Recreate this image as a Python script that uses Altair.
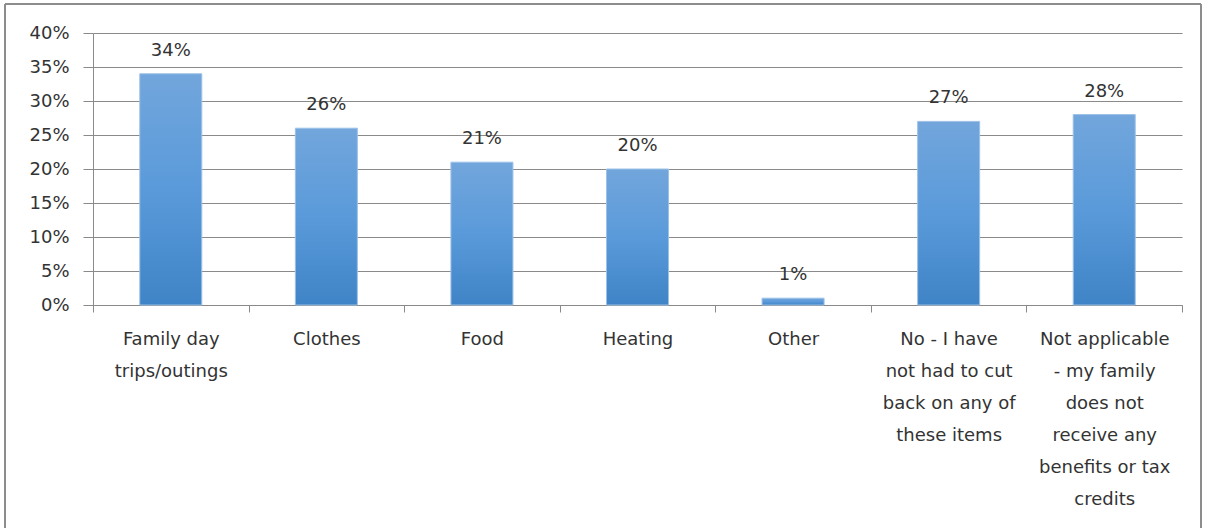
import altair as alt
import pandas as pd

categories = [
    "Family day|trips/outings",
    "Clothes",
    "Food",
    "Heating",
    "Other",
    "No - I have|not had to cut|back on any of|these items",
    "Not applicable|- my family|does not|receive any|benefits or tax|credits",
]
values = [0.34, 0.26, 0.21, 0.20, 0.01, 0.27, 0.28]
y_ticks = [0, 0.05, 0.10, 0.15, 0.20, 0.25, 0.30, 0.35, 0.40]

df = pd.DataFrame({"category": categories, "value": values})

FONT = "DejaVu Sans"
GRID = "#8a8a8a"
TEXT = "#333333"

W, H = 1089, 272

grad = alt.Gradient(
    gradient="linear", x1=0, y1=0, x2=0, y2=1,
    stops=[
        alt.GradientStop(offset=0, color="#72A6DC"),
        alt.GradientStop(offset=0.5, color="#5A9ADA"),
        alt.GradientStop(offset=1, color="#3F84C6"),
    ],
)

x_enc = alt.X(
    "category:N", sort=None, title=None,
    scale=alt.Scale(paddingInner=0, paddingOuter=0),
    axis=alt.Axis(
        labelAngle=0, labelExpr="split(datum.label, '|')",
        labelFont=FONT, labelFontSize=18, labelColor=TEXT,
        labelLineHeight=32, labelPadding=18, labelBaseline="top",
        tickBand="extent", tickSize=7, tickColor=GRID, domainColor=GRID,
        grid=False, labelLimit=0,
    ),
)
y_enc = alt.Y(
    "value:Q", title=None,
    scale=alt.Scale(domain=[0, 0.4], nice=False),
    axis=alt.Axis(
        values=y_ticks, format=".0%", labelFont=FONT, labelFontSize=18,
        labelColor=TEXT, labelPadding=14, tickSize=10, tickColor=GRID,
        domainColor=GRID, gridColor=GRID, gridWidth=1, labelOverlap=False,
    ),
)

bars = alt.Chart(df).mark_bar(size=62, color=grad, stroke="#9cc0e6", strokeWidth=1).encode(
    x=x_enc, y=y_enc
)
labels = alt.Chart(df).mark_text(
    dy=-14, baseline="bottom", font=FONT, fontSize=18, color=TEXT
).encode(x=x_enc, y=y_enc, text=alt.Text("value:Q", format=".0%"))

border = alt.Chart(df).mark_rect(
    fill=None, stroke="#8c8c8c", strokeWidth=1, clip=False
).encode(
    x=alt.value(-88), x2=alt.value(1108), y=alt.value(-29), y2=alt.value(240 + 300)
)

chart = alt.layer(border, bars, labels).properties(
    width=W, height=H,
    autosize=alt.AutoSizeParams(type="none"),
    padding={"left": 93, "top": 33, "right": 1209 - 93 - W, "bottom": 528 - 33 - H},
).configure_view(stroke=None)

chart.save("out.html", embed_options={"renderer": "svg", "actions": False})
